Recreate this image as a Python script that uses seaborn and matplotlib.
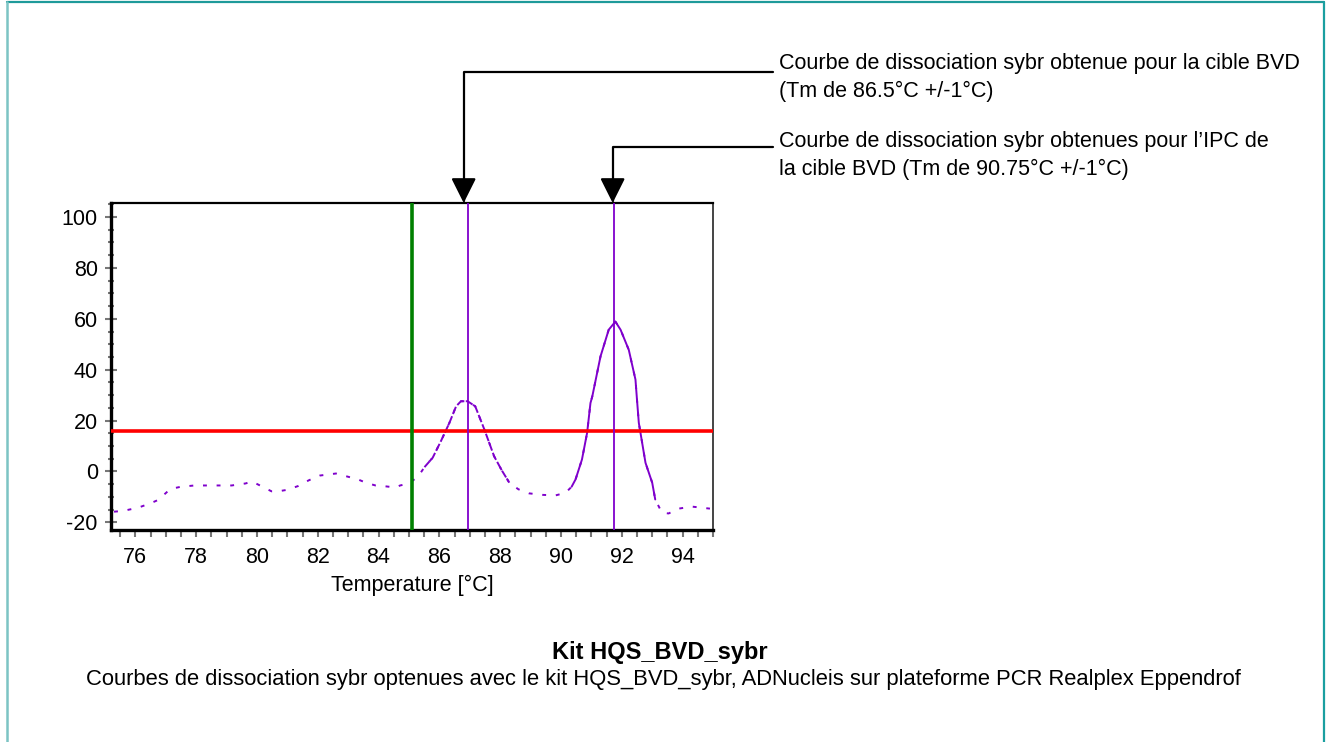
import matplotlib
matplotlib.use("Agg")
import matplotlib.pyplot as plt
from matplotlib.lines import Line2D
from matplotlib.ticker import MultipleLocator
import numpy as np
import pandas as pd
import seaborn as sns

# Melt curve (temperature in °C, signal)
temperature = [75.3, 75.6, 76.1, 76.5, 76.75, 77.15, 77.5, 77.95, 78.33, 78.8,
               79.17, 79.63, 79.83, 80.1, 80.48, 80.7, 81.0, 81.36, 81.7, 82.07,
               82.6, 83.1, 83.32, 83.6, 83.9, 84.2, 84.56, 84.71, 85.0, 85.3,
               85.51, 85.78, 86.05, 86.33, 86.55, 86.71, 86.93, 87.18, 87.48, 87.8,
               88.05, 88.3, 88.6, 88.95, 89.4, 89.82, 90.15, 90.35, 90.48, 90.69,
               90.86, 90.97, 91.03, 91.3, 91.57, 91.79, 91.96, 92.23, 92.45, 92.5,
               92.56, 92.78, 93.0, 93.1, 93.32, 93.54, 93.87, 94.3, 94.9]
signal = [-15.8, -15.5, -14.2, -12.5, -11.2, -6.9, -6.0, -5.5, -5.5, -5.5,
          -5.5, -4.7, -3.9, -5.5, -7.8, -7.8, -7.2, -5.7, -3.5, -1.6,
          -0.8, -2.4, -3.1, -4.5, -5.5, -5.8, -6.3, -5.5, -4.7, -2.0,
          1.7, 5.4, 11.9, 19.1, 25.6, 27.6, 27.6, 25.6, 16.5, 6.0,
          0.5, -4.4, -7.0, -8.6, -9.2, -9.4, -8.4, -6.0, -3.1, 4.7,
          15.2, 26.9, 29.5, 45.2, 55.7, 58.9, 55.7, 47.8, 36.1, 28.2,
          19.1, 3.4, -4.4, -11.0, -16.2, -16.5, -14.6, -13.8, -14.6]

threshold = 16
start_line = 85.1
tm_lines = [86.93, 91.75]
arrow_targets = [86.8, 91.7]
x_ticks = [76, 78, 80, 82, 84, 86, 88, 90, 92, 94]
y_ticks = [-20, 0, 20, 40, 60, 80, 100]

note_1 = "Courbe de dissociation sybr obtenue pour la cible BVD\n(Tm de 86.5°C +/-1°C)"
note_2 = "Courbe de dissociation sybr obtenues pour l\u2019IPC de\nla cible BVD (Tm de 90.75°C +/-1°C)"
title = "Kit HQS_BVD_sybr"
caption = ("Courbes de dissociation sybr optenues avec le kit HQS_BVD_sybr, "
           "ADNucleis sur plateforme PCR Realplex Eppendrof")

df = pd.DataFrame({"temp": temperature, "signal": signal})

sns.set_style("ticks")
plt.rcParams["font.family"] = ["Liberation Sans", "DejaVu Sans"]
plt.rcParams["axes.unicode_minus"] = False
plt.rcParams["text.color"] = "black"
plt.rcParams["axes.labelcolor"] = "black"
plt.rcParams["xtick.labelcolor"] = "black"
plt.rcParams["ytick.labelcolor"] = "black"

purple = "#7F00CC"

fig = plt.figure(figsize=(13.3, 7.42), dpi=100)
ax = fig.add_axes([111 / 1330, 1 - 530 / 742, 602 / 1330, 327 / 742])

# baseline drawn dashed, peaks drawn (almost) solid
sns.lineplot(data=df, x="temp", y="signal", color=purple, linewidth=1.4,
             linestyle=(0, (2, 5)), ax=ax, sort=False)
peak1 = df[(df.temp >= 85.5) & (df.temp <= 88.3)]
peak2 = df[(df.temp >= 90.3) & (df.temp <= 93.1)]
ax.plot(peak1.temp, peak1.signal, color=purple, lw=1.4, ls=(0, (4, 1.2)))
ax.plot(peak2.temp, peak2.signal, color=purple, lw=1.4)

ax.axhline(threshold, color="#FF0000", lw=2.6, zorder=3)
ax.axvline(start_line, color="#008000", lw=2.6, zorder=3)
for x in tm_lines:
    ax.axvline(x, color=purple, lw=1.3, zorder=3)

ax.set_xlim(75.2, 95.0)
ax.set_ylim(-23, 105.5)
ax.set_xticks(x_ticks)
ax.set_yticks(y_ticks)
ax.xaxis.set_minor_locator(MultipleLocator(0.5))
ax.yaxis.set_minor_locator(MultipleLocator(5))
ax.tick_params(axis="x", which="both", direction="out", length=5, width=1.5,
               color="#777777", bottom=True, top=False)
ax.tick_params(axis="x", which="major", labelsize=15.5, pad=7)
ax.tick_params(axis="y", which="major", direction="inout", length=9, width=1.5,
               color="#777777", labelsize=15.5, pad=5, left=True, right=False)
ax.tick_params(axis="y", which="minor", direction="inout", length=5, width=1.5,
               color="#777777", left=True, right=False)
ax.set_xlabel("Temperature [°C]", fontsize=15.5, labelpad=5)
ax.set_ylabel("")

for side in ["left", "bottom"]:
    ax.spines[side].set_linewidth(2.4)
    ax.spines[side].set_color("black")
ax.spines["top"].set_linewidth(1.6)
ax.spines["top"].set_color("black")
ax.spines["right"].set_linewidth(1.4)
ax.spines["right"].set_color("#444444")

# callout arrows from the notes down to the Tm lines
for tx, ty in zip(arrow_targets, [1 - 72 / 742, 1 - 147 / 742]):
    ax.annotate("", xy=(tx, 105.5), xycoords="data",
                xytext=(773 / 1330, ty), textcoords="figure fraction",
                arrowprops=dict(arrowstyle="-|>,head_length=0.9,head_width=0.45",
                                connectionstyle="angle,angleA=0,angleB=90,rad=0",
                                color="black", lw=1.6, shrinkA=0, shrinkB=0,
                                mutation_scale=17),
                annotation_clip=False)

fig.text(779 / 1330, 1 - 53 / 742, note_1, fontsize=15.5, va="top", ha="left",
         linespacing=1.4)
fig.text(779 / 1330, 1 - 131 / 742, note_2, fontsize=15.5, va="top", ha="left",
         linespacing=1.4)
fig.text(660 / 1330, 1 - 652 / 742, title, fontsize=17, fontweight="bold",
         ha="center", va="center")
fig.text(663 / 1330, 1 - 679 / 742, caption, fontsize=15.8, ha="center", va="center")

# teal frame around the figure (open at the bottom)
fig.add_artist(Line2D([7 / 1330, 1324 / 1330], [1 - 2 / 742, 1 - 2 / 742],
                      color="#1E9A9A", lw=1.6))
fig.add_artist(Line2D([7 / 1330, 7 / 1330], [0, 1 - 2 / 742],
                      color="#7CC4C4", lw=1.8))
fig.add_artist(Line2D([1324 / 1330, 1324 / 1330], [0, 1 - 2 / 742],
                      color="#1A9FA0", lw=1.6))

fig.savefig("out.png", dpi=100)
